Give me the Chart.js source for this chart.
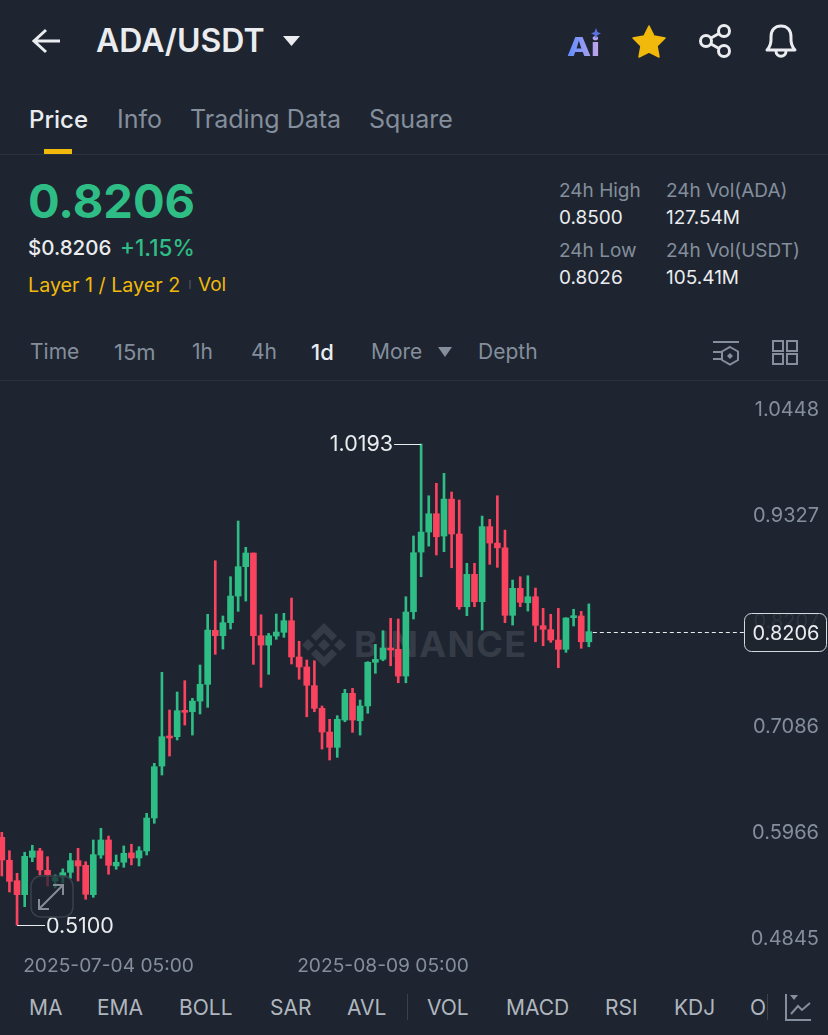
<!DOCTYPE html>
<html lang="en">
<head>
<meta charset="UTF-8">
<title>ADA/USDT</title>
<script src="https://cdn.jsdelivr.net/npm/chart.js"></script>
<style>
    html, body { margin: 0; padding: 0; background: #1e2530; }
    body { position: relative; width: 828px; height: 1035px; overflow: hidden; font-family: Inter, sans-serif; color: #eaecef; }
    .t { position: absolute; white-space: nowrap; line-height: 30px; height: 30px; }
    .grey { color: #848e9c; }
    .tab { font-size: 25px; top: 104px; color: #848e9c; }
    .small { font-size: 19px; }
    .range { font-size: 21px; top: 337px; color: #848e9c; }
    .ind { font-size: 21px; top: 993px; color: #b0b6bf; }
    .rule { position: absolute; left: 0; width: 828px; height: 1px; background: #2b323d; }
    #chart { position: absolute; left: -2px; top: 380px; z-index: 2; }
    #mark { position: absolute; left: 0; top: 380px; z-index: 1; }
    #icons { position: absolute; left: 0; top: 0; z-index: 3; pointer-events: none; }
</style>
</head>
<body>
    <div class="t" style="left:96px;top:26px;font-size:32px;font-weight:600">ADA/USDT</div>

    <div class="t tab" style="left:29px;top:105px;color:#eaecef;font-weight:500;font-size:24px">Price</div>
    <div class="t tab" style="left:117px">Info</div>
    <div class="t tab" style="left:190px">Trading Data</div>
    <div class="t tab" style="left:369px">Square</div>
    <div style="position:absolute;left:44px;top:149px;width:28px;height:5px;background:#f0b90b"></div>
    <div class="rule" style="top:154px"></div>

    <div class="t" style="left:28px;top:186px;font-size:47px;font-weight:700;color:#2ebd85">0.8206</div>
    <div class="t" style="left:28px;top:233px;font-size:20.5px;font-weight:500">$0.8206</div>
    <div class="t" style="left:120px;top:233px;font-size:22.5px;font-weight:500;color:#2ebd85">+1.15%</div>
    <div class="t small" style="left:28px;top:270px;font-size:19.7px;color:#f0b90b">Layer 1 / Layer 2</div>
    <div style="position:absolute;left:189px;top:280px;width:2px;height:9px;background:#3a414c"></div>
    <div class="t small" style="left:198px;top:270px;color:#f0b90b">Vol</div>

    <div class="t small grey" style="left:559px;top:176px">24h High</div>
    <div class="t small" style="left:559px;top:203px">0.8500</div>
    <div class="t small grey" style="left:559px;top:236px">24h Low</div>
    <div class="t small" style="left:559px;top:263px">0.8026</div>
    <div class="t small grey" style="left:666px;top:176px">24h Vol(ADA)</div>
    <div class="t small" style="left:666px;top:203px">127.54M</div>
    <div class="t small grey" style="left:666px;top:236px">24h Vol(USDT)</div>
    <div class="t small" style="left:666px;top:263px">105.41M</div>

    <div class="t range" style="left:30px">Time</div>
    <div class="t range" style="left:114px;font-size:22px">15m</div>
    <div class="t range" style="left:192px">1h</div>
    <div class="t range" style="left:251px">4h</div>
    <div class="t range" style="left:311px;color:#eaecef;font-weight:500;font-size:22px">1d</div>
    <div class="t range" style="left:371px">More</div>
    <div class="t range" style="left:478px">Depth</div>
    <div class="rule" style="top:380px"></div>

    <!-- watermark sits under the candles -->
    <svg id="mark" width="828" height="300">
        <g transform="translate(324 265)" fill="#363c47">
            <path d="M0 -22 L13 -9 L8 -4 L0 -12 L-8 -4 L-13 -9 Z"/>
            <path d="M0 22 L13 9 L8 4 L0 12 L-8 4 L-13 9 Z"/>
            <path d="M0 -6 L6 0 L0 6 L-6 0 Z"/>
            <path d="M-16 -6 L-10 0 L-16 6 L-22 0 Z"/>
            <path d="M16 -6 L22 0 L16 6 L10 0 Z"/>
        </g>
        <text x="354" y="277" font-family="Inter, sans-serif" font-size="36" font-weight="700" fill="#363c47" textLength="172">BINANCE</text>
    </svg>

    <canvas id="chart" width="831" height="610"></canvas>

    <svg id="icons" width="828" height="1035">
        <!-- header -->
        <path d="M60 41 H35 M46 30 L34 41 L46 52" fill="none" stroke="#eaecef" stroke-width="3"/>
        <path d="M283 36 H300 L291.5 46 Z" fill="#eaecef"/>
        <defs><linearGradient id="ai" x1="0" x2="1"><stop offset="0" stop-color="#5f8cff"/><stop offset="1" stop-color="#c3a6ea"/></linearGradient></defs>
        <text x="567" y="56" font-family="Inter, sans-serif" font-size="26" font-weight="800" fill="url(#ai)" textLength="33" lengthAdjust="spacingAndGlyphs">Ai</text>
        <path d="M596 28 L597.5 32 L601 33.5 L597.5 35 L596 39 L594.5 35 L591 33.5 L594.5 32 Z" fill="#5b6fdc"/>
        <path d="M649 26 L654 36 L665 38 L657 46 L659 57 L649 52 L639 57 L641 46 L633 38 L644 36 Z" fill="#f0b90b" stroke="#f0b90b" stroke-width="1.5" stroke-linejoin="round"/>
        <g fill="none" stroke="#eaecef" stroke-width="3">
            <circle cx="706" cy="41" r="5.5"/><circle cx="724" cy="31" r="5.5"/><circle cx="724" cy="51" r="5.5"/>
            <path d="M711 38 L719 33.5 M711 44 L719 48.5"/>
            <path d="M767 50 C772 45 771 40 771 37 C771 30 775 26 781 26 C787 26 791 30 791 37 C791 40 790 45 795 50 Z" stroke-linejoin="round"/>
            <path d="M776 51 C776 58 786 58 786 51"/>
        </g>
        <!-- range bar -->
        <path d="M438 347 H452 L445 357 Z" fill="#848e9c"/>
        <g fill="none" stroke="#848e9c" stroke-width="2">
            <path d="M713 342 H739 M713 352 H722 M713 359 H722"/>
            <path d="M730 347 L738 351.5 V360 L730 364.5 L722 360 V351.5 Z"/>
            <rect x="773" y="341" width="10" height="10"/><rect x="787" y="341" width="10" height="10"/>
            <rect x="773" y="354" width="10" height="10"/><rect x="787" y="354" width="10" height="10"/>
        </g>
        <path d="M730 353 L733 356 L730 359 L727 356 Z" fill="#848e9c"/>
        <!-- expand button -->
        <rect x="31" y="876" width="42" height="41" rx="10" fill="#1e2530" fill-opacity="0.72" stroke="#3a414c" stroke-width="1.5"/>
        <path d="M40 908 L62 886 M53 885 H63 V895 M39 899 V909 H49" fill="none" stroke="#868c96" stroke-width="2"/>
        <!-- indicator bar -->
        <path d="M407.5 994 V1020 M767.5 994 V1020" stroke="#3a414c" stroke-width="1"/>
        <path d="M786 994 V1020 H811" fill="none" stroke="#848e9c" stroke-width="2"/>
        <path d="M791 1014 L798 1006 L802 1010 L810 1003" fill="none" stroke="#848e9c" stroke-width="2"/>
        <path d="M790 995 H798 L794 1000 Z" fill="#848e9c"/>
    </svg>

    <div class="t ind" style="left:29px">MA</div>
    <div class="t ind" style="left:97px">EMA</div>
    <div class="t ind" style="left:179px">BOLL</div>
    <div class="t ind" style="left:270px">SAR</div>
    <div class="t ind" style="left:347px">AVL</div>
    <div class="t ind" style="left:427px">VOL</div>
    <div class="t ind" style="left:506px">MACD</div>
    <div class="t ind" style="left:605px">RSI</div>
    <div class="t ind" style="left:674px">KDJ</div>
    <div class="t ind" style="left:750px">O</div>

    <script>
        const opens = [
            .6028,.5785,.5569,.5421,.5817,.5884,.5679,.5566,.5606,.5658,.5781,.5732,.5421,.5841,.6000,.5725,.5764,.5863,.5810,.5884,
            .6233,.6783,.7101,.7094,.7369,.7358,.7471,.7648,.8220,.8163,
            .8301,.8583,.8894,.9039,.8163,.8064,.8160,.8199,.8322,.7938,
            .7832,.7634,.7394,.7143,.6981,.7270,.7553,.7263,.7419,.7882,
            .7913,.8030,.8019,.7736,.8417,.9049,.9261,.9455,.9219,.9610,
            .9240,.8470,.8813,.8523,.9318,.9144,.9094,.8379,.8665,.8512,
            .8576,.8269,.8227,.8117,.8019,.8354,.8372,.8099
        ];
        const closes = [
            .5788,.5562,.5421,.5827,.5884,.5683,.5633,.5601,.5654,.5781,.5725,.5425,.5845,.6000,.5732,.5764,.5859,.5810,.5886,.6233,
            .6776,.7094,.7080,.7369,.7352,.7471,.7648,.8223,.8163,.8301,
            .8583,.8894,.9039,.8163,.8064,.8163,.8202,.8322,.7938,.7832,
            .7638,.7394,.7143,.6981,.7278,.7553,.7270,.7419,.7882,.7913,
            .8033,.8012,.7736,.8414,.9042,.9261,.9455,.9211,.9610,.9240,
            .8470,.8813,.8523,.9318,.9144,.9094,.8379,.8665,.8517,.8576,
            .8273,.8231,.8117,.8019,.8351,.8372,.8099,.8206
        ];
        const highs = [
            .6081,.5886,.5647,.5870,.5944,.5912,.5823,.5630,.5694,.5859,.5912,.5770,.6000,.6124,.6042,.5841,.5937,.5955,.5929,.6282,
            .6812,.7776,.7376,.7567,.7687,.7500,.7853,.8390,.8957,.8372,
            .8788,.9378,.9099,.9039,.8385,.8188,.8393,.8400,.8562,.8104,
            .7906,.7898,.7419,.7278,.7316,.7595,.7606,.7482,.7888,.8072,
            .8216,.8347,.8340,.8576,.9219,1.0193,.9645,.9777,.9883,.9685,
            .9600,.8930,.8930,.9430,.9395,.9645,.9282,.8753,.8788,.8798,
            .8668,.8453,.8390,.8453,.8354,.8443,.8421,.8500
        ];
        const lows = [
            .5619,.5449,.5100,.5294,.5770,.5630,.5513,.5492,.5545,.5594,.5566,.5372,.5393,.5806,.5637,.5690,.5711,.5736,.5725,.5841,
            .6177,.6688,.6889,.7059,.7217,.7111,.7334,.7405,.7966,.8022,
            .8234,.8421,.8530,.7860,.7617,.7754,.8125,.8146,.7864,.7702,
            .7305,.7358,.6963,.6847,.6875,.7252,.7140,.7111,.7342,.7765,
            .7898,.7845,.7665,.7665,.8340,.8788,.9112,.9018,.9053,.8883,
            .8443,.8375,.8470,.8223,.8919,.8887,.8301,.8276,.8470,.8424,
            .8099,.8057,.8093,.7824,.7987,.8266,.8030,.8046
        ];
        const priceTicks = [1.0448, 0.9327, 0.8207, 0.7086, 0.5966, 0.4845];
        const shownDates = ['2025-07-04 05:00', '2025-08-09 05:00'];
        const lastPrice = 0.8206;
        const highMark = { index: 55, price: 1.0193 };
        const lowMark = { index: 2, price: 0.5100 };

        const GREEN = '#2ebd85';
        const RED = '#f9435f';

        // one daily label per candle, then empty slots for the gap on the right
        const dates = opens.map((_, i) => {
            const d = new Date(Date.UTC(2025, 5, 20 + i));
            return d.toISOString().slice(0, 10) + ' 05:00';
        });
        const labels = dates.concat(Array(31).fill(''));
        const colors = opens.map((o, i) => closes[i] >= o ? GREEN : RED);

        // price labels sit just above their level, so they are placed here from the y scale
        const priceLabels = {
            id: 'priceLabels',
            afterDatasetsDraw(chart) {
                const { ctx, scales: { y } } = chart;
                ctx.save();
                ctx.font = '20px Inter, sans-serif';
                ctx.fillStyle = '#848e9c';
                ctx.textAlign = 'right';
                ctx.textBaseline = 'middle';
                y.ticks.forEach(t => {
                    ctx.fillText(t.value.toFixed(4), 821, y.getPixelForValue(t.value) - 10);
                });
                ctx.restore();
            }
        };

        // callouts for the high, the low and the last price
        const marks = {
            id: 'marks',
            afterDraw(chart) {
                const { ctx, scales: { x, y } } = chart;
                ctx.save();
                ctx.font = '21.5px Inter, sans-serif';
                ctx.fillStyle = '#eaecef';
                ctx.strokeStyle = '#eaecef';
                ctx.lineWidth = 1;
                ctx.textBaseline = 'middle';

                const hx = x.getPixelForValue(highMark.index), hy = Math.round(y.getPixelForValue(highMark.price)) + 0.5;
                ctx.beginPath(); ctx.moveTo(hx, hy); ctx.lineTo(hx - 27, hy); ctx.stroke();
                ctx.textAlign = 'right';
                ctx.fillText(highMark.price.toFixed(4), hx - 28, hy);

                const lx = x.getPixelForValue(lowMark.index), ly = Math.round(y.getPixelForValue(lowMark.price)) + 0.5;
                ctx.beginPath(); ctx.moveTo(lx, ly); ctx.lineTo(lx + 28, ly); ctx.stroke();
                ctx.textAlign = 'left';
                ctx.fillText(lowMark.price.toFixed(4), lx + 29, ly + 1);

                const px = x.getPixelForValue(opens.length - 1), py = Math.round(y.getPixelForValue(lastPrice)) + 0.5;
                ctx.setLineDash([4, 3]);
                ctx.beginPath(); ctx.moveTo(px + 4, py); ctx.lineTo(746, py); ctx.stroke();
                ctx.setLineDash([]);

                ctx.beginPath();
                ctx.roundRect(746.5, py - 19, 82, 38, 7);
                ctx.fillStyle = 'rgba(30,37,48,0.86)';
                ctx.fill();
                ctx.strokeStyle = '#d5d8dc';
                ctx.stroke();
                ctx.fillStyle = '#eaecef';
                ctx.textAlign = 'center';
                ctx.font = '20px Inter, sans-serif';
                ctx.fillText(lastPrice.toFixed(4), 788, py + 1);
                ctx.restore();
            }
        };

        new Chart(document.getElementById('chart'), {
            type: 'bar',
            data: {
                labels: labels,
                datasets: [
                    {
                        label: 'Body',
                        data: opens.map((o, i) => [o, closes[i]]),
                        backgroundColor: colors,
                        barThickness: 6,
                        minBarLength: 2,
                        grouped: false,
                        order: 1
                    },
                    {
                        label: 'Wick',
                        data: lows.map((l, i) => [l, highs[i]]),
                        backgroundColor: colors,
                        barThickness: 2,
                        grouped: false,
                        order: 2
                    }
                ]
            },
            options: {
                responsive: false,
                animation: false,
                events: [],
                layout: { padding: 0 },
                plugins: { legend: { display: false }, tooltip: { enabled: false } },
                scales: {
                    x: {
                        type: 'category',
                        offset: true,
                        grid: { display: false, drawTicks: false },
                        border: { display: false },
                        afterFit: s => { s.height = 40; },
                        ticks: {
                            autoSkip: false,
                            maxRotation: 0,
                            padding: 5,
                            color: '#848e9c',
                            font: { family: 'Inter, sans-serif', size: 19.2 },
                            callback: (v, i) => shownDates.includes(labels[i]) ? labels[i] : null
                        }
                    },
                    y: {
                        position: 'right',
                        min: 0.4835,
                        max: 1.0871,
                        grid: { display: false, drawTicks: false },
                        border: { display: false },
                        afterBuildTicks: s => { s.ticks = priceTicks.map(v => ({ value: v })); },
                        afterFit: s => { s.width = 0; },
                        ticks: { display: false }
                    }
                }
            },
            plugins: [priceLabels, marks]
        });
    </script>
</body>
</html>
